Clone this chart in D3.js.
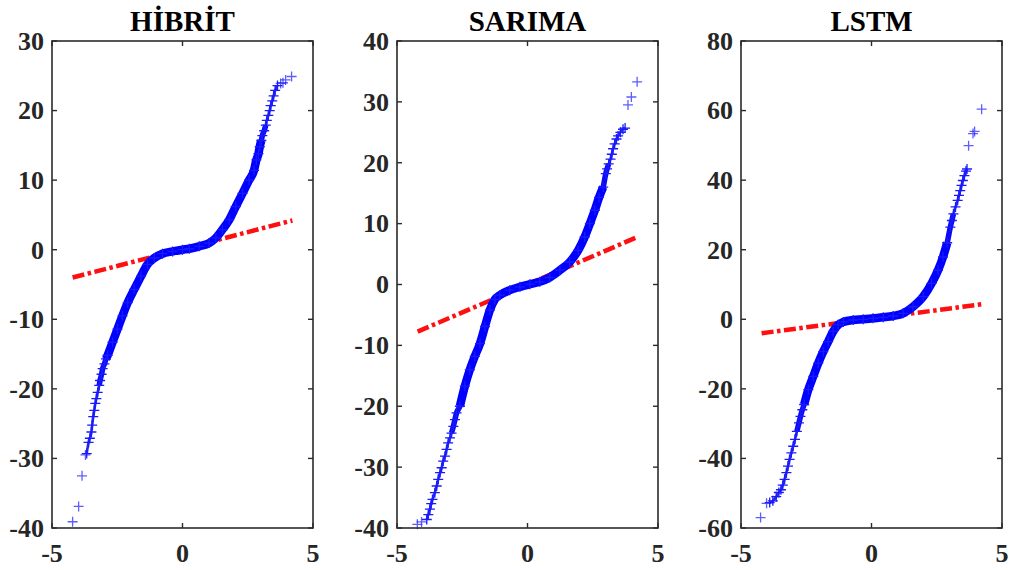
<!DOCTYPE html>
<html>
<head>
<meta charset="utf-8">
<script src="https://cdn.jsdelivr.net/npm/d3@7"></script>
<style>
  html, body { margin: 0; padding: 0; background: #fff; }
  svg { display: block; }
</style>
</head>
<body>
<svg id="chart" width="1011" height="570"></svg>
<script>
// Panel titles and tick values
const titles = ["HİBRİT", "SARIMA", "LSTM"];
const xTickValues = [-5, 0, 5];
const hibritYTicks = [-40, -30, -20, -10, 0, 10, 20, 30];
const sarimaYTicks = [-40, -30, -20, -10, 0, 10, 20, 30, 40];
const lstmYTicks = [-60, -40, -20, 0, 20, 40, 60, 80];

// Normal-probability plot points: theoretical quantile (Q) vs. residual quantile (V)
const hibritQ = [-4.21, -3.98, -3.85, -3.72, -3.67, -3.60, -3.55, -3.49, -3.46, -3.42, -3.38, -3.34, -3.30, -3.25, -3.19, -3.16, -3.10, -3.06, -2.99, -2.93,
  -2.87, -2.68, -2.49, -2.30, -2.10, -1.85, -1.59, -1.34, -1.08, -0.77, -0.38, 0.00, 0.26, 0.64, 1.02, 1.28, 1.53, 1.79, 2.04, 2.30, 2.55, 2.74,
  2.83, 2.91, 2.96, 3.02, 3.06, 3.13, 3.19, 3.23, 3.29, 3.34, 3.38, 3.44, 3.49, 3.55, 3.64, 3.76, 3.85, 3.95, 4.18];
const hibritV = [-39.1, -36.9, -32.5, -29.5, -29.3, -27.7, -27.1, -26.2, -25.2, -24.0, -23.1, -22.1, -21.4, -20.5, -19.5, -18.8, -17.9, -17.1, -16.4, -15.7,
  -15.2, -13.3, -11.4, -9.5, -7.6, -5.7, -3.8, -2.1, -1.19, -0.57, -0.24, 0.0, 0.14, 0.48, 0.95, 1.7, 2.9, 4.3, 6.2, 8.1, 10.0, 11.4,
  12.9, 13.8, 14.8, 15.7, 16.4, 17.1, 17.9, 18.6, 19.3, 20.0, 20.7, 21.4, 22.1, 22.9, 23.6, 23.9, 24.0, 24.4, 24.9];

const sarimaQ = [-4.22, -4.06, -3.86, -3.80, -3.74, -3.69, -3.64, -3.55, -3.48, -3.42, -3.35, -3.29, -3.23, -3.16, -3.10, -3.04, -2.97, -2.91, -2.84, -2.78, -2.72,
  -2.59, -2.40, -2.21, -2.02, -1.82, -1.63, -1.44, -1.25, -1.06, -0.68, -0.29, 0.09, 0.47, 0.85, 1.24, 1.62, 1.94, 2.19, 2.39, 2.58, 2.74, 2.90,
  3.00, 3.05, 3.11, 3.18, 3.23, 3.28, 3.34, 3.41, 3.47, 3.56, 3.66, 3.74, 3.85, 3.98, 4.20];
const sarimaV = [-39.4, -39.0, -38.6, -37.8, -36.9, -36.0, -35.3, -34.2, -33.1, -32.0, -30.9, -30.1, -29.0, -28.2, -27.1, -26.0, -25.2, -24.4, -23.3, -22.2, -21.1,
  -20.0, -16.7, -14.0, -11.8, -9.7, -6.9, -4.2, -2.45, -1.75, -0.93, -0.38, 0.05, 0.44, 1.15, 2.35, 3.7, 5.6, 7.8, 10.0, 12.2, 14.3, 16.0,
  18.2, 19.0, 19.8, 20.6, 21.4, 22.3, 23.1, 23.9, 24.4, 25.0, 25.5, 25.7, 29.5, 30.8, 33.3];

const lstmQ = [-4.25, -4.02, -3.90, -3.78, -3.65, -3.55, -3.47, -3.40, -3.33, -3.26, -3.20, -3.14, -3.07, -3.00, -2.93, -2.86, -2.78, -2.72, -2.65,
  -2.58, -2.42, -2.23, -2.04, -1.85, -1.66, -1.47, -1.28, -1.08, -0.70, -0.32, 0.06, 0.45, 0.83, 1.21, 1.59, 1.98, 2.30, 2.55, 2.74, 2.90,
  3.02, 3.08, 3.14, 3.22, 3.30, 3.35, 3.40, 3.45, 3.50, 3.56, 3.62, 3.66, 3.72, 3.89, 3.95, 4.22];
const lstmV = [-57.0, -52.9, -52.7, -52.2, -51.0, -49.8, -49.0, -47.7, -46.0, -44.1, -42.2, -40.3, -38.4, -36.5, -34.5, -32.2, -29.8, -27.9, -26.0,
  -24.5, -20.2, -16.4, -12.6, -9.3, -6.4, -3.5, -1.6, -0.76, -0.2, 0.0, 0.29, 0.57, 0.95, 1.7, 3.6, 6.5, 10.3, 14.1, 17.9, 22.0,
  26.5, 28.4, 30.3, 32.3, 34.2, 35.6, 37.0, 38.5, 39.9, 41.3, 42.6, 43.2, 49.9, 53.4, 54.0, 60.4];

// Reference (quartile) line end points
const refX = [-4.21, 4.21];
const hibritRefY = [-4.0, 4.2];
const sarimaRefY = [-7.75, 7.8];
const lstmRefY = [-4.0, 4.3];

// solid: markers merge into a full band; taper: band thins out; stack: markers form a stacked column
const panels = [
  { title: titles[0], q: hibritQ, v: hibritV, refY: hibritRefY, yTicks: hibritYTicks, left: 52,
    solid: [-2.95, 3.02], taper: [-3.2, 3.2], stack: [-3.7, 3.7] },
  { title: titles[1], q: sarimaQ, v: sarimaV, refY: sarimaRefY, yTicks: sarimaYTicks, left: 397,
    solid: [-2.62, 2.95], taper: [-2.92, 3.15], stack: [-3.9, 3.8] },
  { title: titles[2], q: lstmQ, v: lstmV, refY: lstmRefY, yTicks: lstmYTicks, left: 741,
    solid: [-2.6, 3.0], taper: [-2.9, 3.2], stack: [-3.9, 3.7] }
];

const svg = d3.select("#chart");
const plotW = 261, plotTop = 41, plotBottom = 528;
const axisColor = "#2b2b2b";
const fontFamily = "'Liberation Serif', 'Times New Roman', serif";
const tickLen = 5;

panels.forEach(p => {
  const x = d3.scaleLinear().domain([-5, 5]).range([p.left, p.left + plotW]);
  const y = d3.scaleLinear().domain(d3.extent(p.yTicks)).range([plotBottom, plotTop]);
  const g = svg.append("g");
  const pts = p.q.map((q, i) => ({ q, v: p.v[i] }));
  const inRange = r => d => d.q >= r[0] && d.q <= r[1];
  const line = d3.line().x(d => x(d.q)).y(d => y(d.v)).curve(d3.curveMonotoneX);

  // Reference line (dash-dot)
  g.append("line")
    .attr("x1", x(refX[0])).attr("y1", y(p.refY[0]))
    .attr("x2", x(refX[1])).attr("y2", y(p.refY[1]))
    .attr("stroke", "#ff1010")
    .attr("stroke-width", 4.5)
    .attr("stroke-dasharray", "12,3.5,3.5,3.5");

  // Band layers: stacked column, tapering band, full band
  [[p.stack, 2.6, "#2a2ae0"], [p.taper, 5.5, "#0a0af5"], [p.solid, 8.5, "#0000ff"]].forEach(([r, w, c]) => {
    g.append("path")
      .datum(pts.filter(inRange(r)))
      .attr("fill", "none")
      .attr("stroke", c)
      .attr("stroke-width", w)
      .attr("stroke-linecap", "butt")
      .attr("stroke-linejoin", "round")
      .attr("d", line);
  });

  // "+" markers
  const m = 5;
  g.append("g").selectAll("path.mk")
    .data(pts)
    .join("path")
    .attr("class", "mk")
    .attr("fill", "none")
    .attr("stroke", "#1a1aff")
    .attr("stroke-width", 1.3)
    .attr("stroke-opacity", d => inRange(p.stack)(d) ? 1 : 0.7)
    .attr("d", d => {
      const cx = x(d.q), cy = y(d.v);
      return `M${cx - m},${cy}H${cx + m}M${cx},${cy - m}V${cy + m}`;
    });

  // Axes box
  g.append("rect")
    .attr("x", p.left).attr("y", plotTop)
    .attr("width", plotW).attr("height", plotBottom - plotTop)
    .attr("fill", "none")
    .attr("stroke", axisColor)
    .attr("stroke-width", 1.6);

  // Inward ticks on all four sides
  const tg = g.append("g").attr("stroke", axisColor).attr("stroke-width", 1.4);
  p.yTicks.forEach(t => {
    tg.append("line").attr("x1", p.left).attr("x2", p.left + tickLen).attr("y1", y(t)).attr("y2", y(t));
    tg.append("line").attr("x1", p.left + plotW).attr("x2", p.left + plotW - tickLen).attr("y1", y(t)).attr("y2", y(t));
  });
  xTickValues.forEach(t => {
    tg.append("line").attr("x1", x(t)).attr("x2", x(t)).attr("y1", plotBottom).attr("y2", plotBottom - tickLen);
    tg.append("line").attr("x1", x(t)).attr("x2", x(t)).attr("y1", plotTop).attr("y2", plotTop + tickLen);
  });

  // Tick labels
  g.append("g").selectAll("text.yl")
    .data(p.yTicks)
    .join("text")
    .attr("class", "yl")
    .attr("x", p.left - 8)
    .attr("y", d => y(d))
    .attr("dy", "0.34em")
    .attr("text-anchor", "end")
    .attr("font-family", fontFamily)
    .attr("font-weight", "bold")
    .attr("font-size", 26)
    .attr("fill", "#262626")
    .text(d => d);

  g.append("g").selectAll("text.xl")
    .data(xTickValues)
    .join("text")
    .attr("class", "xl")
    .attr("x", d => x(d))
    .attr("y", 562)
    .attr("text-anchor", "middle")
    .attr("font-family", fontFamily)
    .attr("font-weight", "bold")
    .attr("font-size", 26)
    .attr("fill", "#262626")
    .text(d => d);

  // Title
  g.append("text")
    .attr("x", p.left + plotW / 2)
    .attr("y", 31)
    .attr("text-anchor", "middle")
    .attr("font-family", fontFamily)
    .attr("font-weight", "bold")
    .attr("font-size", 29)
    .attr("fill", "#000")
    .text(p.title);
});
</script>
</body>
</html>
